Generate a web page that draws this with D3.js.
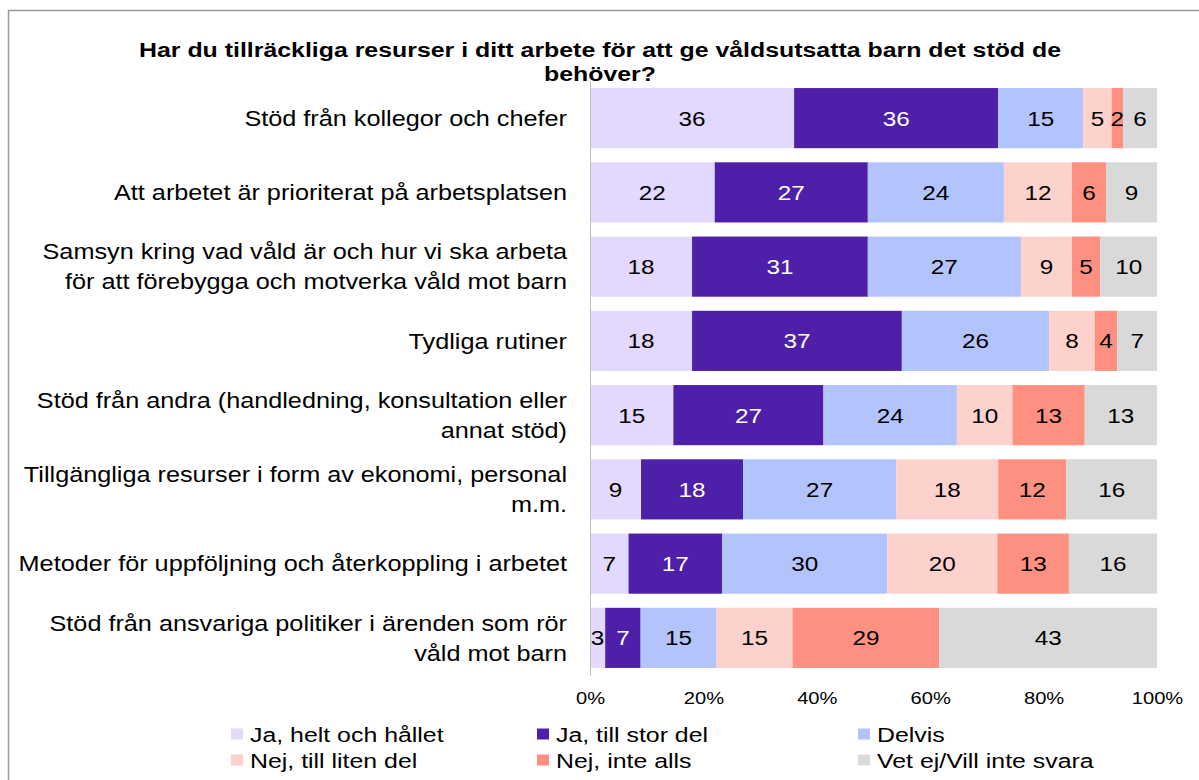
<!DOCTYPE html>
<html>
<head>
<meta charset="utf-8">
<script src="https://cdn.jsdelivr.net/npm/d3@7"></script>
<style>
  html, body { margin: 0; padding: 0; background: #fff; }
  svg { display: block; font-family: "Liberation Sans", Arial, sans-serif; }
</style>
</head>
<body>
<svg id="chart" width="1199" height="780"></svg>
<script>
// Categories, one per row (each string line-split with \n)
const categories = [
  "Stöd från kollegor och chefer",
  "Att arbetet är prioriterat på arbetsplatsen",
  "Samsyn kring vad våld är och hur vi ska arbeta\nför att förebygga och motverka våld mot barn",
  "Tydliga rutiner",
  "Stöd från andra (handledning, konsultation eller\nannat stöd)",
  "Tillgängliga resurser i form av ekonomi, personal\nm.m.",
  "Metoder för uppföljning och återkoppling i arbetet",
  "Stöd från ansvariga politiker i ärenden som rör\nvåld mot barn"
];

const seriesNames = [
  "Ja, helt och hållet",
  "Ja, till stor del",
  "Delvis",
  "Nej, till liten del",
  "Nej, inte alls",
  "Vet ej/Vill inte svara"
];

// Percent per answer, in the category order above
const jaHelt      = [36, 22, 18, 18, 15,  9,  7,  3];
const jaStor      = [36, 27, 31, 37, 27, 18, 17,  7];
const delvis      = [15, 24, 27, 26, 24, 27, 30, 15];
const nejLiten    = [ 5, 12,  9,  8, 10, 18, 20, 15];
const nejInte     = [ 2,  6,  5,  4, 13, 12, 13, 29];
const vetEj       = [ 6,  9, 10,  7, 13, 16, 16, 43];

const tickValues = [0, 0.2, 0.4, 0.6, 0.8, 1.0];

const colors = ["#E3D8FD", "#4E1FA8", "#B3C3FC", "#FED2CC", "#FE9082", "#D9D9D9"];
const labelColors = ["#000", "#fff", "#000", "#000", "#000", "#000"];

// Text is set slightly wide
const SX = 1.185;

const seriesValues = [jaHelt, jaStor, delvis, nejLiten, nejInte, vetEj];
const rows = categories.map((c, i) => {
  const r = { category: c };
  seriesNames.forEach((s, k) => { r[s] = seriesValues[k][i]; });
  return r;
});

const svg = d3.select("#chart");

// Outer frame
svg.append("rect")
  .attr("x", 8.5).attr("y", 10.5)
  .attr("width", 1250).attr("height", 900)
  .attr("fill", "none").attr("stroke", "#9a9a9a").attr("stroke-width", 1.5);

const x = d3.scaleLinear().domain([0, 1]).range([590, 1157]);
const y = d3.scaleBand().domain(categories).range([81, 675])
  .paddingInner(0.19).paddingOuter(0.095);

const stack = d3.stack().keys(seriesNames).offset(d3.stackOffsetExpand);
const layers = stack(rows);

const g = svg.append("g");
layers.forEach((layer, k) => {
  const lg = g.append("g");
  lg.selectAll("rect").data(layer).join("rect")
    .attr("x", d => x(d[0]))
    .attr("y", d => y(d.data.category))
    .attr("width", d => x(d[1]) - x(d[0]))
    .attr("height", y.bandwidth())
    .attr("fill", colors[k]);
  lg.selectAll("text").data(layer).join("text")
    .attr("transform", d =>
      `translate(${(x(d[0]) + x(d[1])) / 2},${y(d.data.category) + y.bandwidth() / 2}) scale(${SX},1)`)
    .attr("dy", "0.36em")
    .attr("text-anchor", "middle")
    .attr("font-size", 20.5)
    .attr("fill", labelColors[k])
    .text(d => d.data[layer.key]);
});

// Title (drawn after the bars, its second line runs over the first bar)
const title = svg.append("text")
  .attr("transform", `translate(600,0) scale(${SX},1)`)
  .attr("text-anchor", "middle")
  .attr("font-weight", "bold")
  .attr("font-size", 21)
  .attr("fill", "#000");
title.append("tspan").attr("x", 0).attr("y", 57)
  .text("Har du tillräckliga resurser i ditt arbete för att ge våldsutsatta barn det stöd de");
title.append("tspan").attr("x", 0).attr("y", 81).text("behöver?");

// Category axis line
svg.append("line")
  .attr("x1", 590.5).attr("x2", 590.5)
  .attr("y1", 81).attr("y2", 676)
  .attr("stroke", "#bfbfbf").attr("stroke-width", 1);

// Category labels
categories.forEach(c => {
  const lines = c.split("\n");
  const cy = y(c) + y.bandwidth() / 2;
  const t = svg.append("text")
    .attr("transform", `translate(567,${cy}) scale(${SX},1)`)
    .attr("text-anchor", "end")
    .attr("font-size", 21.3)
    .attr("fill", "#000");
  lines.forEach((ln, i) => {
    t.append("tspan")
      .attr("x", 0)
      .attr("y", (i - (lines.length - 1) / 2) * 30)
      .attr("dy", "0.36em")
      .text(ln);
  });
});

// Value axis tick labels
const xAxis = d3.axisBottom(x).tickValues(tickValues)
  .tickFormat(d3.format(".0%")).tickSize(0).tickPadding(0);
const ax = svg.append("g").attr("transform", "translate(0,692)").call(xAxis);
ax.select(".domain").remove();
ax.selectAll("text")
  .attr("transform", `scale(${SX},1)`)
  .attr("font-size", 17)
  .attr("font-family", "Liberation Sans, Arial, sans-serif")
  .attr("fill", "#000");

// Legend
const legendX = [231, 537, 858];
const legendY = [734, 760];
seriesNames.forEach((s, k) => {
  const col = k % 3, row = Math.floor(k / 3);
  const lg = svg.append("g")
    .attr("transform", `translate(${legendX[col]},${legendY[row]})`);
  lg.append("rect").attr("x", 0).attr("y", -5.5).attr("width", 12).attr("height", 11)
    .attr("fill", colors[k]);
  lg.append("text")
    .attr("transform", `translate(19,0) scale(${SX},1)`)
    .attr("dy", "0.36em")
    .attr("font-size", 21).attr("fill", "#000").text(s);
});
</script>
</body>
</html>
